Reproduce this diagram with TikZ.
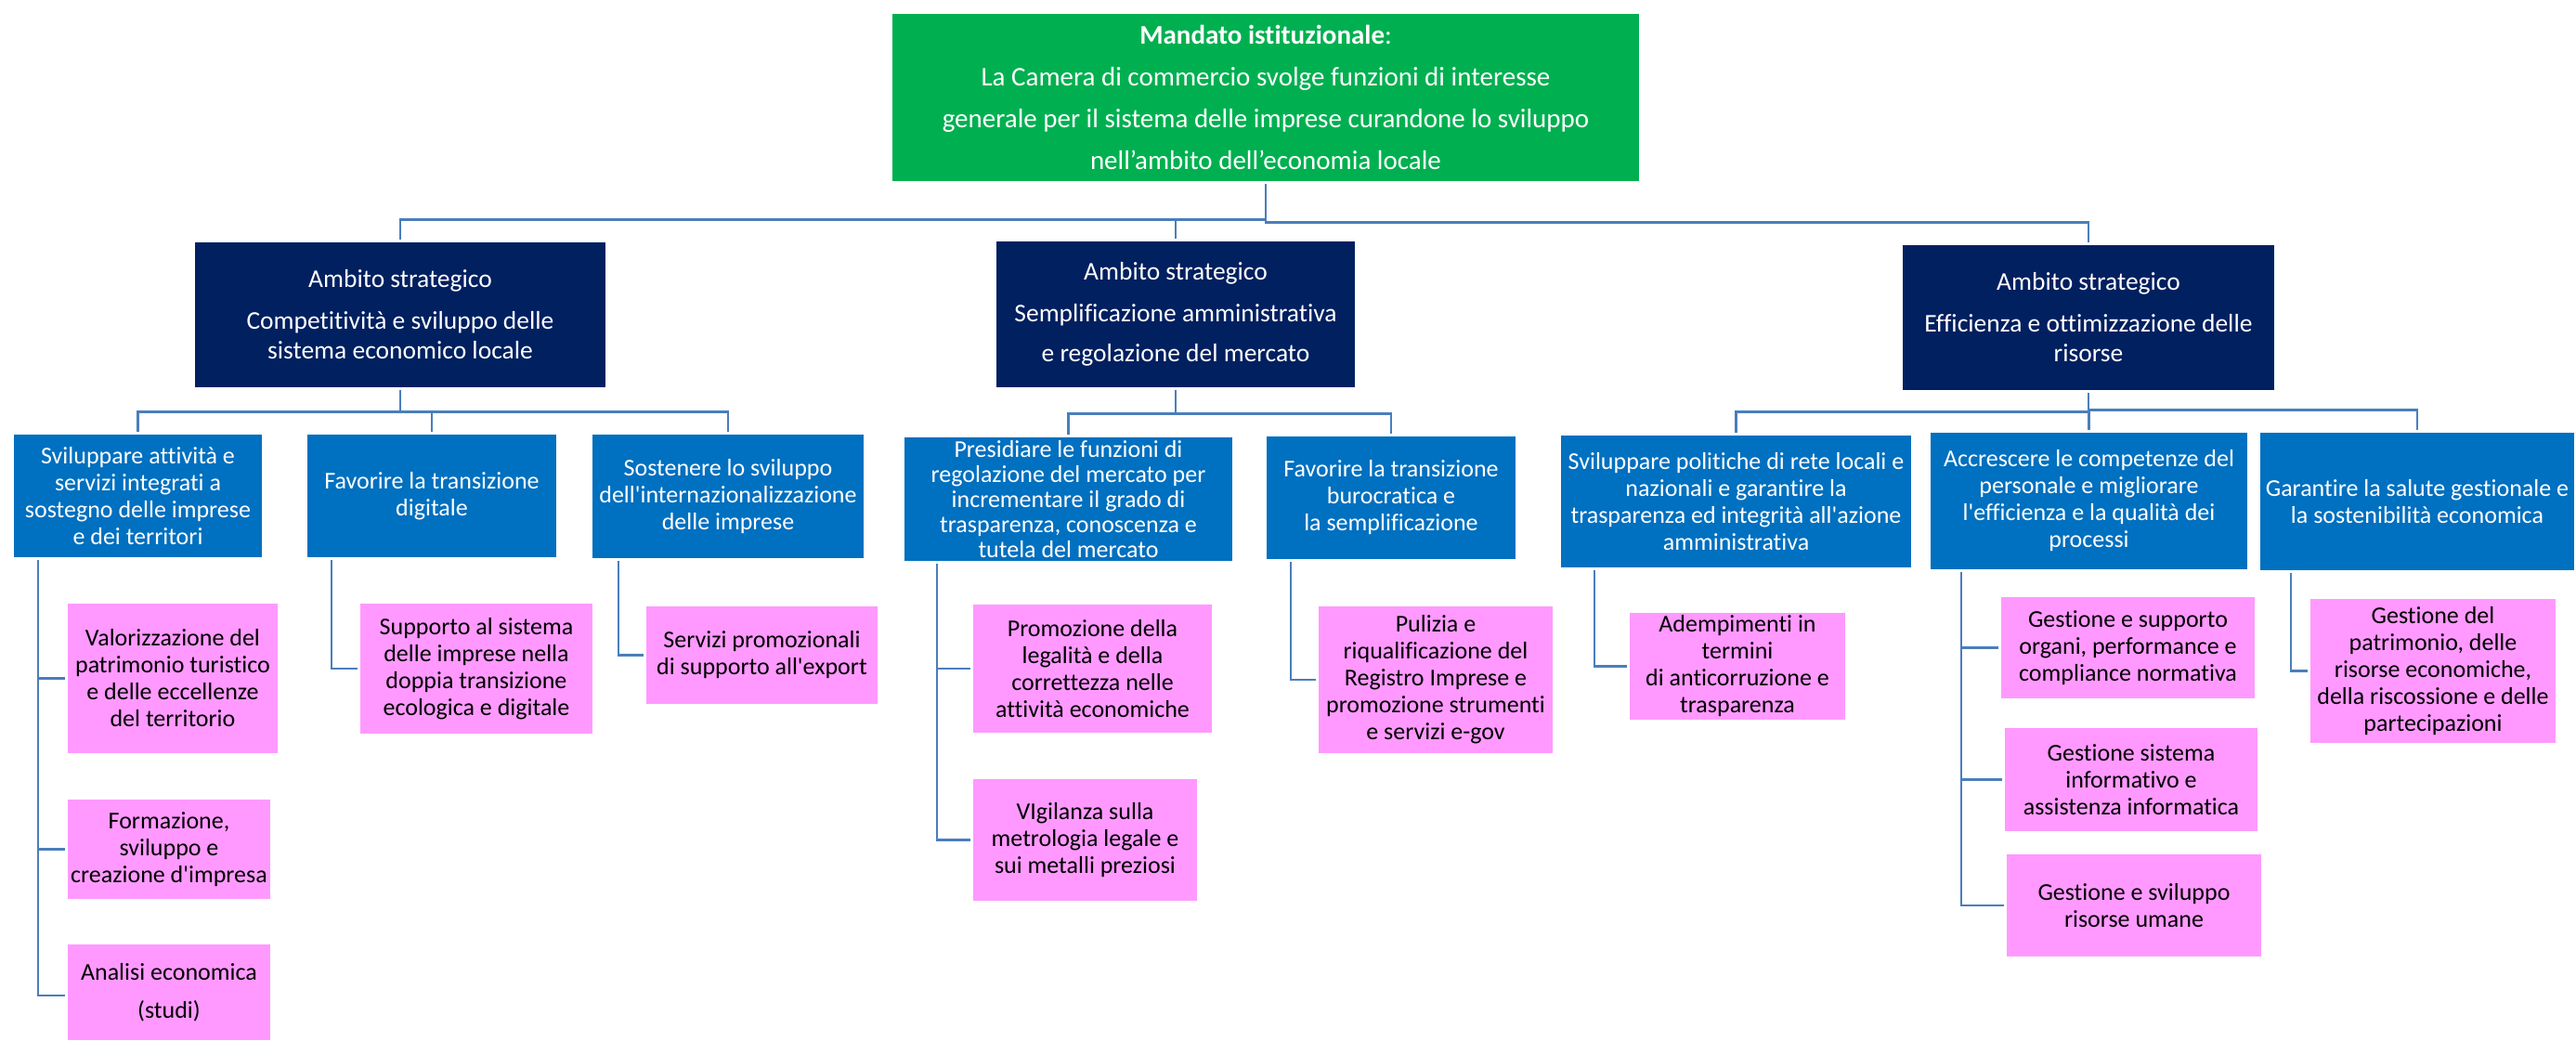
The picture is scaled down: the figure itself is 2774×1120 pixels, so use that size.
\documentclass[tikz,border=0pt]{standalone}
\usepackage{fontspec}
\setmainfont{Carlito}[Ligatures=NoCommon]
\newcommand\aq{\textquotesingle}
\definecolor{mgreen}{HTML}{00B050}
\definecolor{dblue}{HTML}{002060}
\definecolor{mblue}{HTML}{0070C0}
\definecolor{mpink}{HTML}{FF99FF}
\definecolor{conncol}{HTML}{4A7EBB}
\begin{document}
\begin{tikzpicture}[x=1pt,y=-1pt,
  box/.style={rectangle, inner sep=0pt, align=center, font=\fontsize{26}{29}\selectfont},
  topbox/.style={box, fill=mgreen, text=white, font=\fontsize{29}{45}\selectfont},
  ambbox/.style={box, fill=dblue, text=white, font=\fontsize{27.5}{32}\selectfont},
  objbox/.style={box, fill=mblue, text=white},
  actbox/.style={box, fill=mpink, text=black},
  conn/.style={draw=conncol, line width=2.6pt, shorten <=3pt, shorten >=3pt}]
\useasboundingbox (0,0) rectangle (2774,1120);
% top
\node[topbox, minimum width=804pt, minimum height=180pt] (G) at (1363,105)
 {\textbf{Mandato istituzionale}:\\ La Camera di commercio svolge funzioni di interesse\\ generale per il sistema delle imprese curandone lo sviluppo\\ nell’ambito dell’economia locale};
% strategic areas
\node[ambbox, minimum width=442pt, minimum height=156pt] (B1) at (431,339)
 {Ambito strategico\\[13pt] Competitività e sviluppo delle\\ sistema economico locale};
\node[ambbox, minimum width=386pt, minimum height=157pt] (B2) at (1266,338.5)
 {Ambito strategico\\[13pt] Semplificazione amministrativa\\[11pt] e regolazione del mercato};
\node[ambbox, minimum width=400pt, minimum height=156pt] (B3) at (2249,342)
 {Ambito strategico\\[13pt] Efficienza e ottimizzazione delle\\ risorse};
% objectives
\node[objbox, minimum width=267pt, minimum height=132pt] (L1) at (148.5,534)
 {Sviluppare attività e\\ servizi integrati a\\ sostegno delle imprese\\ e dei territori};
\node[objbox, minimum width=268pt, minimum height=132pt] (L2) at (465,534)
 {Favorire la transizione\\ digitale};
\node[objbox, minimum width=292pt, minimum height=133pt] (L3) at (784,534.5)
 {Sostenere lo sviluppo\\ dell\aq internazionalizzazione\\ delle imprese};
\node[objbox, minimum width=353pt, minimum height=133pt, font=\fontsize{26}{27}\selectfont] (M1) at (1150.5,537.5)
 {Presidiare le funzioni di\\ regolazione del mercato per\\ incrementare il grado di\\ trasparenza, conoscenza e\\ tutela del mercato};
\node[objbox, minimum width=268pt, minimum height=132pt] (M2) at (1498,536)
 {Favorire la transizione\\ burocratica e\\ la semplificazione};
\node[objbox, minimum width=377pt, minimum height=142pt] (R1) at (1869.5,540)
 {Sviluppare politiche di rete locali e\\ nazionali e garantire la\\ trasparenza ed integrità all\aq azione\\ amministrativa};
\node[objbox, minimum width=341pt, minimum height=147pt] (R2) at (2249.5,539.5)
 {Accrescere le competenze del\\ personale e migliorare\\ l\aq efficienza e la qualità dei\\ processi};
\node[objbox, minimum width=338pt, minimum height=148pt] (R3) at (2603,540)
 {Garantire la salute gestionale e\\ la sostenibilità economica};
% activities
\node[actbox, minimum width=226pt, minimum height=161pt] (P1) at (186,730.5)
 {Valorizzazione del\\ patrimonio turistico\\ e delle eccellenze\\ del territorio};
\node[actbox, minimum width=218pt, minimum height=107pt] (P2) at (182,914.5)
 {Formazione,\\ sviluppo e\\ creazione d\aq impresa};
\node[actbox, minimum width=218pt, minimum height=103pt] (P3) at (182,1068.5)
 {Analisi economica\\[12pt] (studi)};
\node[actbox, minimum width=250pt, minimum height=140pt] (P4) at (513,720)
 {Supporto al sistema\\ delle imprese nella\\ doppia transizione\\ ecologica e digitale};
\node[actbox, minimum width=249pt, minimum height=105pt] (P5) at (820.5,705.5)
 {Servizi promozionali\\ di supporto all\aq export};
\node[actbox, minimum width=257pt, minimum height=138pt] (P6) at (1176.5,720)
 {Promozione della\\ legalità e della\\ correttezza nelle\\ attività economiche};
\node[actbox, minimum width=241pt, minimum height=131pt] (P7) at (1168.5,904.5)
 {VIgilanza sulla\\ metrologia legale e\\ sui metalli preziosi};
\node[actbox, minimum width=252pt, minimum height=158pt] (P8) at (1546,732)
 {Pulizia e\\ riqualificazione del\\ Registro Imprese e\\ promozione strumenti\\ e servizi e-gov};
\node[actbox, minimum width=232pt, minimum height=115pt] (P9) at (1871,717.5)
 {Adempimenti in\\ termini\\ di anticorruzione e\\ trasparenza};
\node[actbox, minimum width=273pt, minimum height=109pt] (P10) at (2291.5,697.5)
 {Gestione e supporto\\ organi, performance e\\ compliance normativa};
\node[actbox, minimum width=272pt, minimum height=111pt] (P11) at (2295,839.5)
 {Gestione sistema\\ informativo e\\ assistenza informatica};
\node[actbox, minimum width=274pt, minimum height=110pt] (P12) at (2298,975)
 {Gestione e sviluppo\\ risorse umane};
\node[actbox, minimum width=264pt, minimum height=155pt] (P13) at (2620,722.5)
 {Gestione del\\ patrimonio, delle\\ risorse economiche,\\ della riscossione e delle\\ partecipazioni};
% level 1 connectors
\draw[conn] (G.south) -- ++(0,41) -| (B1.north);
\draw[conn] (G.south) -- ++(0,41) -| (B2.north);
\draw[conn] (G.south) -- ++(0,44) -| (B3.north);
% level 2 connectors
\draw[conn] (B1.south) -- ++(0,26) -| (L1.north);
\draw[conn] (B1.south) -- ++(0,26) -| (L2.north);
\draw[conn] (B1.south) -- ++(0,26) -| (L3.north);
\draw[conn] (B2.south) -- ++(0,28) -| (M1.north);
\draw[conn] (B2.south) -- ++(0,28) -| (M2.north);
\draw[conn] (B3.south) -- ++(0,23) -| (R1.north);
\draw[conn] (B3.south) -- ++(0,23) -| (R2.north);
\draw[conn] (B3.south) -- ++(0,21) -| (R3.north);
% level 3 connectors
\draw[conn] ([xshift=26pt]L1.south west) |- (P1.west);
\draw[conn] ([xshift=26pt]L1.south west) |- (P2.west);
\draw[conn] ([xshift=26pt]L1.south west) |- ([yshift=-3.5pt]P3.west);
\draw[conn] ([xshift=26pt]L2.south west) |- (P4.west);
\draw[conn] ([xshift=28pt]L3.south west) |- (P5.west);
\draw[conn] ([xshift=35pt]M1.south west) |- (P6.west);
\draw[conn] ([xshift=35pt]M1.south west) |- (P7.west);
\draw[conn] ([xshift=26pt]M2.south west) |- (P8.west);
\draw[conn] ([xshift=36pt]R1.south west) |- (P9.west);
\draw[conn] ([xshift=33pt]R2.south west) |- (P10.west);
\draw[conn] ([xshift=33pt]R2.south west) |- (P11.west);
\draw[conn] ([xshift=33pt]R2.south west) |- (P12.west);
\draw[conn] ([xshift=33pt]R3.south west) |- (P13.west);
\end{tikzpicture}
\end{document}
